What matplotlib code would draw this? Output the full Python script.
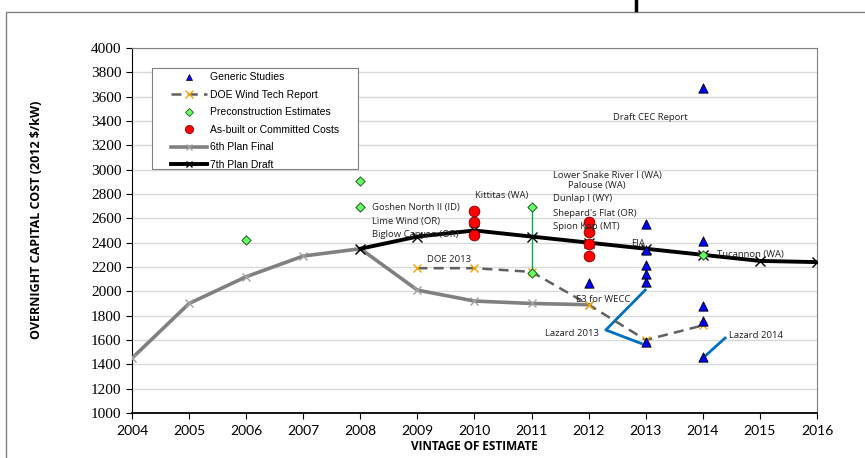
import matplotlib.pyplot as plt
from matplotlib.lines import Line2D
from matplotlib.patches import Rectangle

# Plan trajectories
plan6_years = [2004, 2005, 2006, 2007, 2008, 2009, 2010, 2011, 2012]
plan6_cost = [1450, 1900, 2120, 2290, 2350, 2010, 1920, 1900, 1890]
plan7_years = [2008, 2009, 2010, 2011, 2012, 2013, 2014, 2015, 2016]
plan7_cost = [2350, 2450, 2500, 2450, 2400, 2350, 2300, 2250, 2240]

# DOE Wind Technologies Report series
doe_years = [2009, 2010, 2011, 2012, 2013, 2014]
doe_cost = [2190, 2190, 2160, 1890, 1600, 1720]

# Individual project / study points
generic_years = [2012, 2013, 2013, 2013, 2013, 2013, 2013, 2014, 2014, 2014, 2014, 2014]
generic_cost = [2070, 2550, 2340, 2220, 2140, 2080, 1580, 3670, 2410, 1880, 1760, 1460]
precon_years = [2006, 2008, 2008, 2011, 2011, 2012, 2014]
precon_cost = [2420, 2910, 2690, 2690, 2150, 2520, 2300]
asbuilt_years = [2010, 2010, 2010, 2012, 2012, 2012, 2012]
asbuilt_cost = [2660, 2570, 2460, 2570, 2490, 2390, 2290]

# Text labels: (text, year, cost, ha)
labels = [
    ("Goshen North II (ID)", 2008.2, 2690, "left"),
    ("Lime Wind (OR)", 2008.2, 2570, "left"),
    ("Biglow Canyon (OR)", 2008.2, 2470, "left"),
    ("Kittitas (WA)", 2010.47, 2790, "center"),
    ("Lower Snake River I (WA)", 2011.37, 2950, "left"),
    ("Palouse (WA)", 2011.63, 2870, "left"),
    ("Dunlap I (WY)", 2011.37, 2760, "left"),
    ("Shepard's Flat (OR)", 2011.37, 2640, "left"),
    ("Spion Kop (MT)", 2011.37, 2530, "left"),
    ("EIA", 2012.75, 2390, "left"),
    ("Tucannon (WA)", 2014.25, 2300, "left"),
    ("DOE 2013", 2009.17, 2260, "left"),
    ("E3 for WECC", 2011.78, 1930, "left"),
    ("Lazard 2013", 2011.24, 1650, "left"),
    ("Lazard 2014", 2014.45, 1640, "left"),
    ("Draft CEC Report", 2013.08, 3430, "center"),
]

fig = plt.figure(figsize=(8.65, 4.58), dpi=100)
ax = fig.add_axes([0.1526, 0.0983, 0.7919, 0.7969])

ax.plot(plan6_years, plan6_cost, color="#808080", lw=2.6, marker="x", ms=6,
        mew=1.0, mec="#a0a0a0", zorder=3)
ax.plot(plan7_years, plan7_cost, color="black", lw=2.8, marker="x", ms=7,
        mew=1.0, zorder=4)
ax.plot(doe_years, doe_cost, color="#606060", lw=1.8, ls=(0, (4, 2.5)),
        marker="x", ms=6, mew=1.0, mec="#f0a800", zorder=3)

# range bar for Kittitas estimates
ax.plot([2011, 2011], [2690, 2150], color="#00b050", lw=1.0, zorder=2)

# leader lines for Lazard labels
ax.plot([2012.99, 2012.30, 2012.99], [2010, 1682, 1559], color="#0070c0", lw=2.0, zorder=2)
ax.plot([2014.06, 2014.39], [1476, 1616], color="#0070c0", lw=2.0, zorder=2)

ax.scatter(generic_years, generic_cost, marker="^", s=45, color="#0000ff",
           edgecolors="black", linewidths=0.6, zorder=6)
ax.scatter(precon_years, precon_cost, marker="D", s=22, color="#66ff66",
           edgecolors="#1a5c1a", linewidths=0.7, zorder=5)
ax.scatter(asbuilt_years, asbuilt_cost, marker="o", s=60, color="#ff0000",
           edgecolors="#800000", linewidths=0.6, zorder=5)

for text, x, y, ha in labels:
    ax.text(x, y, text, ha=ha, va="center", fontsize=6.8, family="Open Sans",
            color="#222222", zorder=7)

ax.set_xlim(2004, 2016)
ax.set_ylim(1000, 4000)
ax.set_xticks(range(2004, 2017))
ax.set_yticks(range(1000, 4001, 200))
ax.tick_params(axis="both", direction="out", length=4, width=0.8)
ax.tick_params(axis="x", pad=5)
for lab in ax.get_xticklabels():
    lab.set_family("Lato")
    lab.set_fontsize(10)
for lab in ax.get_yticklabels():
    lab.set_family("Liberation Serif")
    lab.set_fontsize(11)
ax.grid(axis="y", color="#d9d9d9", lw=1.0)
ax.set_axisbelow(True)
for side in ["top", "right"]:
    ax.spines[side].set_color("#808080")
ax.spines["left"].set_color("black")
ax.spines["bottom"].set_color("black")
ax.spines["bottom"].set_linewidth(1.3)

ax.set_xlabel("VINTAGE OF ESTIMATE", fontsize=8.5, fontweight="bold",
              family="Open Sans", labelpad=2)
ax.set_ylabel("OVERNIGHT CAPITAL COST (2012 $/kW)", fontsize=9,
              fontweight="bold", family="Open Sans")
ax.yaxis.set_label_coords(-0.13, 0.53)

handles = [
    Line2D([], [], ls="none", marker="^", ms=5, color="#0000ff", mec="black", mew=0.5),
    Line2D([], [], color="#606060", lw=1.8, ls=(0, (4, 2.5)), marker="x", ms=6, mec="#f0a800"),
    Line2D([], [], ls="none", marker="D", ms=4, color="#66ff66", mec="#1a5c1a", mew=0.6),
    Line2D([], [], ls="none", marker="o", ms=6, color="#ff0000", mec="#800000", mew=0.5),
    Line2D([], [], color="#808080", lw=2.6, marker="x", ms=5, mec="#a0a0a0"),
    Line2D([], [], color="black", lw=2.8, marker="x", ms=5),
]
names = ["Generic Studies", "DOE Wind Tech Report", "Preconstruction Estimates",
         "As-built or Committed Costs", "6th Plan Final", "7th Plan Draft"]

# legend box drawn separately so its padding can differ per side
ax.add_patch(Rectangle((0.0292, 0.668), 0.301, 0.277, transform=ax.transAxes,
                       facecolor="white", edgecolor="#808080", lw=0.8, zorder=8))
leg = ax.legend(handles, names, loc="upper left", bbox_to_anchor=(0.0565, 0.933),
                prop={"family": "Liberation Sans", "size": 7.5}, frameon=False,
                handlelength=3.5, labelspacing=0.72, borderpad=0.0,
                borderaxespad=0.0, handletextpad=0.25)
leg.set_zorder(9)

# outer chart frame and the stray mark above it
fig.add_artist(Rectangle((6 / 865, -0.1), 1.2, (458 - 12) / 458 + 0.1,
                         transform=fig.transFigure, fill=False,
                         edgecolor="#808080", lw=1.0))
fig.add_artist(Line2D([636 / 865, 636 / 865], [1.0, 1 - 10 / 458],
                      transform=fig.transFigure, color="black", lw=2.5))

fig.savefig("out.png", dpi=100)
